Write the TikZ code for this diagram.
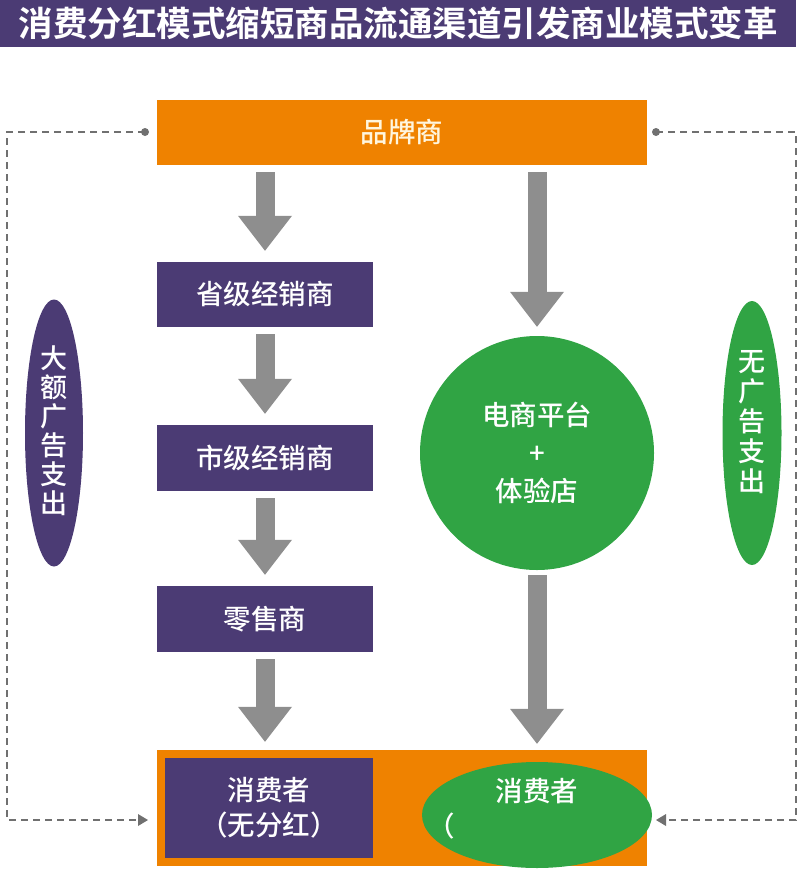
\documentclass[tikz,border=0pt]{standalone}
\usepackage{fontspec}
\newfontfamily\cjk{Noto Sans CJK SC}[BoldFont={Noto Sans CJK SC Bold}]
\newfontfamily\cjkm{Noto Sans CJK SC Medium}
\usetikzlibrary{shapes.geometric, arrows.meta, positioning}
\definecolor{brandorange}{RGB}{239,130,0}
\definecolor{deeppurple}{RGB}{75,59,116}
\definecolor{leafgreen}{RGB}{48,164,68}
\definecolor{arrowgray}{RGB}{142,142,142}
\definecolor{dashgray}{RGB}{112,112,112}
\definecolor{cream}{RGB}{255,246,222}

\begin{document}
\begin{tikzpicture}[x=1pt, y=-1pt,
    caja/.style={rectangle, fill=deeppurple, text=white, inner sep=0pt, minimum width=216pt, minimum height=65pt, font=\cjkm\fontsize{27.5}{35}\selectfont, align=center},
    bola/.style={ellipse, inner sep=0pt, text=white, font=\cjkm\fontsize{27}{29}\selectfont, align=center},
    flecha/.style={line width=19pt, arrowgray, -{Triangle[width=54pt, length=35pt, line width=0pt]}},
    linea/.style={line width=2pt, dashgray, dash pattern=on 7pt off 5pt, -{Triangle[width=12pt, length=10pt, line width=0pt]}}]

    \useasboundingbox (0,0) rectangle (810,873);

    % titulo
    \node[fill=deeppurple, text=white, inner sep=0pt, minimum width=796pt, minimum height=47pt, anchor=north west, font=\cjk\bfseries\fontsize{34.5}{38}\selectfont] (title) at (0,0) {消费分红模式缩短商品流通渠道引发商业模式变革};

    % cajas
    \node[caja, fill=brandorange, text=cream, minimum width=490pt] (brand) at (402,132.5) {品牌商};
    \node[caja] (prov) at (265,294.5) {省级经销商};
    \node[caja, minimum height=66pt] (city) at (265,458) {市级经销商};
    \node[caja, minimum height=66pt] (retail) at (265,619) {零售商};
    \node[caja, fill=brandorange, minimum width=490pt, minimum height=116pt] (cons) at (402,808) {};
    \node[caja, minimum width=208pt, minimum height=100pt] (consa) at (269,808) {消费者\\（无分红）};
    \node[bola, fill=leafgreen, minimum width=230pt, minimum height=106pt] (consb) at (537,815) {};
    \node[bola, font=\cjkm\fontsize{27.5}{35}\selectfont] (consbtxt) at ([yshift=6pt]consb.center) {消费者\\（\phantom{享受消费分红）}};
    \node[bola, circle, fill=leafgreen, minimum size=234pt, font=\cjkm\fontsize{27.5}{38}\selectfont] (shop) at (537,453) {电商平台\\+\\体验店};

    % elipses laterales
    \node[bola, fill=deeppurple, minimum width=58pt, minimum height=267pt] (adyes) at (54,433) {};
    \node[bola] (adyestxt) at (54,431) {大\\额\\广\\告\\支\\出};
    \node[bola, fill=leafgreen, minimum width=59pt, minimum height=264pt] (adno) at (752,433) {};
    \node[bola, font=\cjkm\fontsize{27}{30}\selectfont] (adnotxt) at (752,422) {无\\广\\告\\支\\出};

    % flechas
    \draw[flecha] ([yshift=-7pt]brand.south -| prov.south) -- ([yshift=11pt]prov.north);
    \draw[flecha] ([yshift=-7pt]prov.south) -- ([yshift=11pt]city.north);
    \draw[flecha] ([yshift=-7pt]city.south) -- ([yshift=11pt]retail.north);
    \draw[flecha] ([yshift=-7pt]retail.south) -- ([yshift=8pt]retail.south |- cons.north);
    \draw[flecha] ([yshift=-7pt]brand.south -| shop.north) -- ([yshift=9pt]shop.north);
    \draw[flecha] ([yshift=-5pt]shop.south) -- ([yshift=6pt]cons.north -| shop.south);

    % lineas punteadas
    \coordinate (ldot) at (145,132);
    \coordinate (lend) at (148,820);
    \coordinate (rdot) at (656,132);
    \coordinate (rend) at (656,820);
    \fill[dashgray] (ldot) circle (4);
    \fill[dashgray] (rdot) circle (4);
    \draw[linea] (ldot) -- (7,132) -- (7,820) -- (lend);
    \draw[linea] (rdot) -- (796,132) -- (796,820) -- (rend);
\end{tikzpicture}
\end{document}
